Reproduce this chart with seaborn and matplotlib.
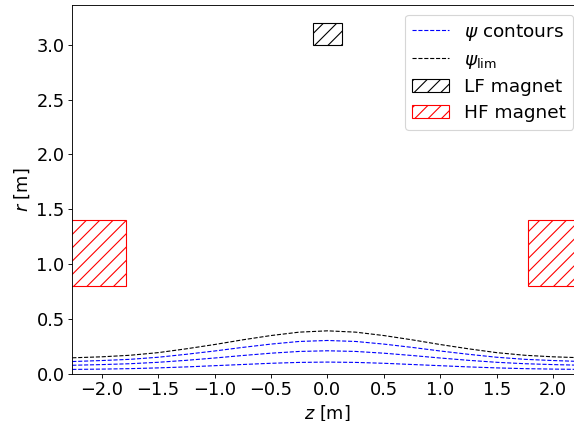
import numpy as np
import pandas as pd
import matplotlib
matplotlib.use("Agg")
import matplotlib.pyplot as plt
from matplotlib.patches import Rectangle
from matplotlib.lines import Line2D
import seaborn as sns

# ---- data ----
z_half = [0.0, 0.25, 0.5, 0.75, 1.0, 1.25, 1.5, 1.75, 2.0, 2.26]
r_lim_half = [0.391, 0.379, 0.348, 0.309, 0.266, 0.227, 0.192, 0.168, 0.154, 0.145]
r_c1_half = [0.303, 0.294, 0.270, 0.240, 0.207, 0.177, 0.150, 0.131, 0.120, 0.111]
r_c2_half = [0.209, 0.203, 0.187, 0.166, 0.143, 0.122, 0.104, 0.091, 0.083, 0.077]
r_c3_half = [0.106, 0.103, 0.095, 0.084, 0.073, 0.062, 0.053, 0.046, 0.042, 0.039]

# magnets: (z_min, z_max, r_min, r_max)
lf_magnet = (-0.125, 0.125, 3.0, 3.2)
hf_magnets = [(-2.30, -1.78, 0.8, 1.4), (1.78, 2.30, 0.8, 1.4)]

x_limits = (-2.26, 2.26)
y_limits = (0.0, 3.36)


def full(half_vals, mirror_sign=1):
    return [mirror_sign * v for v in half_vals[:0:-1]] + list(half_vals)


z_full = full(z_half, -1)
curves = {
    "lim": full(r_lim_half),
    "c1": full(r_c1_half),
    "c2": full(r_c2_half),
    "c3": full(r_c3_half),
}

DPI = 80
fig = plt.figure(figsize=(574 / DPI, 421 / DPI), dpi=DPI)
W, H = 574, 421
ax = fig.add_axes([72.3 / W, (H - 373.7) / H, (582.5 - 72.3) / W, (373.7 - 5.3) / H])

fs = 16
for key in ["c1", "c2", "c3"]:
    df = pd.DataFrame({"z": z_full, "r": curves[key]})
    sns.lineplot(data=df, x="z", y="r", ax=ax, color="b", linestyle="--",
                 linewidth=1.0, estimator=None, sort=False)
df = pd.DataFrame({"z": z_full, "r": curves["lim"]})
sns.lineplot(data=df, x="z", y="r", ax=ax, color="k", linestyle="--",
             linewidth=1.0, estimator=None, sort=False)

z0, z1, r0, r1 = lf_magnet
ax.add_patch(Rectangle((z0, r0), z1 - z0, r1 - r0, fill=False,
                       edgecolor="k", hatch="//"))
for (z0, z1, r0, r1) in hf_magnets:
    ax.add_patch(Rectangle((z0, r0), z1 - z0, r1 - r0, fill=False,
                           edgecolor="r", hatch="//"))

ax.set_xlim(*x_limits)
ax.set_ylim(*y_limits)
ax.set_xticks(np.arange(-2.0, 2.01, 0.5))
ax.set_yticks(np.arange(0.0, 3.01, 0.5))
ax.tick_params(labelsize=fs)
ax.set_xlabel(r"$z$ [m]", fontsize=fs)
ax.set_ylabel(r"$r$ [m]", fontsize=fs)

handles = [
    Line2D([], [], color="b", linestyle="--", linewidth=1.0),
    Line2D([], [], color="k", linestyle="--", linewidth=1.0),
    Rectangle((0, 0), 1, 1, fill=False, edgecolor="k", hatch="//"),
    Rectangle((0, 0), 1, 1, fill=False, edgecolor="r", hatch="//"),
]
labels = [r"$\psi$ contours", r"$\psi_{\rm lim}$", "LF magnet", "HF magnet"]
ax.legend(handles, labels, loc="upper right", fontsize=16.6, labelspacing=0.42)

fig.savefig("out.png", dpi=DPI)
